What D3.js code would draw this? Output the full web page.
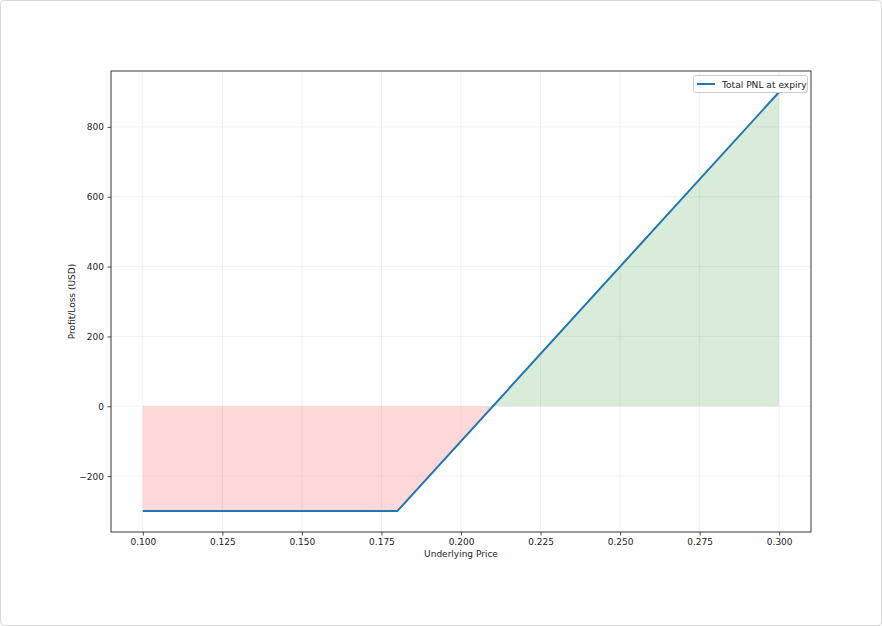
<!DOCTYPE html>
<html><head><meta charset="utf-8">
<script src="https://cdn.jsdelivr.net/npm/d3@7"></script>
<style>body{margin:0;background:#fff}svg{display:block}text{font-family:"DejaVu Sans",sans-serif;fill:#222}</style>
</head><body>
<script>
const prices = [0.10, 0.18, 0.30];
const pnl = [-300, -300, 900];
const xTicks = [0.100, 0.125, 0.150, 0.175, 0.200, 0.225, 0.250, 0.275, 0.300];
const yTicks = [-200, 0, 200, 400, 600, 800];
const seriesLabel = "Total PNL at expiry";

const W = 882, H = 626;
const m = {left: 111, right: 811, top: 71, bottom: 532};
const svg = d3.select("body").append("svg").attr("width", W).attr("height", H);
svg.append("rect").attr("x",0.5).attr("y",0.5).attr("width",W-1).attr("height",H-1).attr("rx",4)
  .attr("fill","#fff").attr("stroke","#d8d8d8");

const x = d3.scaleLinear().domain([0.09, 0.31]).range([m.left, m.right]);
const y = d3.scaleLinear().domain([-360, 960]).range([m.bottom, m.top]);

// grid
const g = svg.append("g");
g.selectAll(".gx").data(xTicks).enter().append("line")
  .attr("x1", d=>x(d)).attr("x2", d=>x(d)).attr("y1", m.top).attr("y2", m.bottom)
  .attr("stroke","#b0b0b0").attr("stroke-opacity",0.22).attr("stroke-width",0.8);
g.selectAll(".gy").data(yTicks).enter().append("line")
  .attr("y1", d=>y(d)).attr("y2", d=>y(d)).attr("x1", m.left).attr("x2", m.right)
  .attr("stroke","#b0b0b0").attr("stroke-opacity",0.22).attr("stroke-width",0.8);

// pnl pieces from data
const pts = prices.map((p,i)=>[p, pnl[i]]);
const i0 = pnl.findIndex((v,i)=> i>0 && pnl[i-1]<0 && v>=0);
const be = prices[i0-1] + (0 - pnl[i0-1])*(prices[i0]-prices[i0-1])/(pnl[i0]-pnl[i0-1]);
const lossPts = pts.filter(d=>d[0] < be).concat([[be,0]]);
const gainPts = [[be,0]].concat(pts.filter(d=>d[0] > be));

const area = d3.area().x(d=>x(d[0])).y0(y(0)).y1(d=>y(d[1]));
svg.append("path").datum(lossPts).attr("d", area).attr("fill","red").attr("fill-opacity",0.15);
svg.append("path").datum(gainPts).attr("d", area).attr("fill","green").attr("fill-opacity",0.15);

// line
const line = d3.line().x(d=>x(d[0])).y(d=>y(d[1]));
svg.append("path").datum(pts).attr("d", line).attr("fill","none")
  .attr("stroke","#1f77b4").attr("stroke-width",2);

// frame
svg.append("rect").attr("x",m.left).attr("y",m.top).attr("width",m.right-m.left).attr("height",m.bottom-m.top)
  .attr("fill","none").attr("stroke","#222").attr("stroke-width",0.9);

// axes
const fmtX = d3.format(".3f");
const xAxis = svg.append("g").attr("transform",`translate(0,${m.bottom})`)
  .call(d3.axisBottom(x).tickValues(xTicks).tickFormat(fmtX).tickSize(3.5).tickPadding(3.5));
const yAxis = svg.append("g").attr("transform",`translate(${m.left},0)`)
  .call(d3.axisLeft(y).tickValues(yTicks).tickFormat(d=> d<0 ? "\u2212"+Math.abs(d) : d).tickSize(3.5).tickPadding(3.5));
[xAxis,yAxis].forEach(a=>{
  a.select(".domain").remove();
  a.selectAll("line").attr("stroke","#222").attr("stroke-width",0.8);
  a.selectAll("text").attr("font-size","9px").attr("fill","#222").style("font-family","DejaVu Sans");
});

svg.append("text").attr("x",(m.left+m.right)/2).attr("y",557).attr("text-anchor","middle")
  .attr("font-size","9px").text("Underlying Price");
svg.append("text").attr("transform",`translate(75,${(m.top+m.bottom)/2}) rotate(-90)`).attr("text-anchor","middle")
  .attr("font-size","9px").text("Profit/Loss (USD)");

// legend
const lg = svg.append("g");
lg.append("rect").attr("x",693.5).attr("y",75.5).attr("width",114).attr("height",17).attr("rx",2)
  .attr("fill","#fff").attr("fill-opacity",0.8).attr("stroke","#ccc");
lg.append("line").attr("x1",697).attr("x2",715).attr("y1",84).attr("y2",84).attr("stroke","#1f77b4").attr("stroke-width",2);
lg.append("text").attr("x",722).attr("y",87.5).attr("font-size","9.1px").text(seriesLabel);
</script>
</body></html>
